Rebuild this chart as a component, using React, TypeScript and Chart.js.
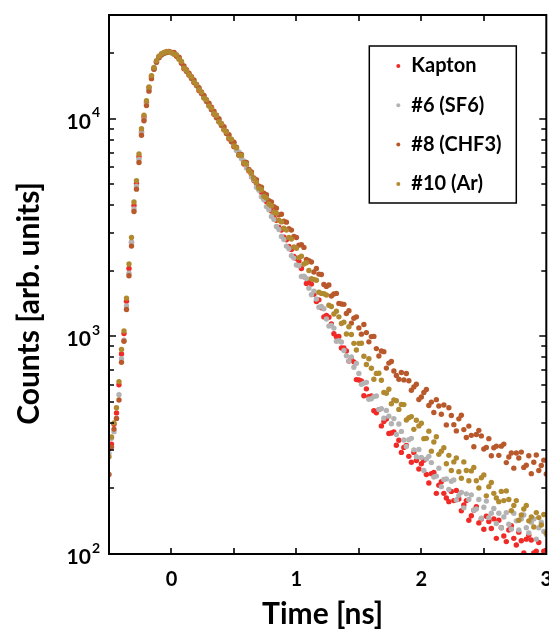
import React, { useEffect, useRef } from "react";
import { Chart, registerables } from "chart.js";

Chart.register(...registerables);

// ---- data (time in ns, counts) ----
const TIME_NS = [
  -0.5, -0.48, -0.46, -0.44, -0.42, -0.4, -0.38, -0.36, -0.34, -0.32,
  -0.3, -0.28, -0.26, -0.24, -0.22, -0.2, -0.18, -0.16, -0.14, -0.12,
  -0.1, -0.08, -0.06, -0.04, -0.02, 0,
  0.02, 0.04, 0.06, 0.08, 0.1, 0.12, 0.14, 0.16, 0.18, 0.2,
  0.22, 0.24, 0.26, 0.28, 0.3, 0.32, 0.34, 0.36, 0.38, 0.4,
  0.42, 0.44, 0.46, 0.48, 0.5, 0.52, 0.54, 0.56, 0.58, 0.6,
  0.62, 0.64, 0.66, 0.68, 0.7, 0.72, 0.74, 0.76, 0.78, 0.8,
  0.82, 0.84, 0.86, 0.88, 0.9, 0.92, 0.94, 0.96, 0.98, 1,
  1.02, 1.04, 1.06, 1.08, 1.1, 1.12, 1.14, 1.16, 1.18, 1.2,
  1.22, 1.24, 1.26, 1.28, 1.3, 1.32, 1.34, 1.36, 1.38, 1.4,
  1.42, 1.44, 1.46, 1.48, 1.5, 1.52, 1.54, 1.56, 1.58, 1.6,
  1.62, 1.64, 1.66, 1.68, 1.7, 1.72, 1.74, 1.76, 1.78, 1.8,
  1.82, 1.84, 1.86, 1.88, 1.9, 1.92, 1.94, 1.96, 1.98, 2,
  2.02, 2.04, 2.06, 2.08, 2.1, 2.12, 2.14, 2.16, 2.18, 2.2,
  2.22, 2.24, 2.26, 2.28, 2.3, 2.32, 2.34, 2.36, 2.38, 2.4,
  2.42, 2.44, 2.46, 2.48, 2.5, 2.52, 2.54, 2.56, 2.58, 2.6,
  2.62, 2.64, 2.66, 2.68, 2.7, 2.72, 2.74, 2.76, 2.78, 2.8,
  2.82, 2.84, 2.86, 2.88, 2.9, 2.92, 2.94, 2.96, 2.98, 3,
];

const KAPTON = [
  305, 320, 395, 445, 600, 830, 1030, 1450, 2050, 2700,
  4000, 5050, 6700, 8700, 10200, 11900, 13900, 15700, 17100, 18400,
  19300, 19800, 20100, 20300, 20400, 20200,
  20100, 19400, 19200, 18100, 17000, 16800, 15900, 15600, 14700, 14400,
  13500, 13300, 12500, 12200, 11500, 11300, 10500, 10400, 9700, 9500,
  8900, 8750, 8100, 8000, 7450, 7350, 6800, 6700, 6200, 6150,
  5750, 5560, 5200, 5060, 4760, 4600, 4300, 4170, 3900, 3770,
  3530, 3420, 3170, 3080, 2860, 2780, 2590, 2510, 2330, 2280,
  2222, 2050, 1880, 1750, 1775, 1739, 1561, 1448, 1472, 1353,
  1229, 1249, 1224, 1142, 1028, 997, 1000, 885, 884, 857,
  770, 789, 764, 633, 630, 624, 534, 574, 529, 532,
  455, 446, 461, 388, 406, 417, 358, 360, 364, 316,
  333, 293, 309, 315, 281, 264, 293, 269, 246, 260,
  270, 232, 212, 234, 237, 190, 207, 215, 190, 181,
  174, 194, 176, 196, 179, 158, 168, 176, 143, 150,
  159, 165, 139, 145, 130, 149, 141, 131, 145, 118,
  143, 132, 121, 114, 129, 135, 118, 110, 126, 115,
  101, 117, 122, 116, 101, 103, 113, 94, 103, 104,
];

const SF6 = [
  290, 340, 365, 420, 540, 790, 960, 1380, 1950, 2700,
  3850, 4900, 6500, 8600, 9900, 11600, 13600, 15400, 16900, 18200,
  19100, 19600, 19900, 20100, 20200, 20100,
  19900, 19700, 18900, 18300, 17200, 16500, 16100, 15300, 14950, 14200,
  13800, 13050, 12700, 12000, 11700, 11000, 10750, 10100, 9900, 9300,
  9100, 8550, 8350, 7850, 7700, 7150, 7050, 6550, 6400, 5950,
  5800, 5400, 5250, 4850, 4700, 4380, 4250, 3950, 3820, 3560,
  3450, 3200, 3100, 2880, 2790, 2600, 2530, 2350, 2290, 2130,
  2111, 1886, 1889, 1847, 1666, 1555, 1615, 1485, 1363, 1374,
  1339, 1203, 1115, 1122, 1092, 950, 955, 942, 862, 814,
  770, 805, 722, 752, 676, 602, 610, 615, 514, 517,
  529, 532, 461, 465, 421, 457, 430, 397, 419, 354,
  396, 366, 334, 312, 335, 340, 301, 280, 302, 278,
  242, 273, 281, 263, 226, 228, 248, 204, 220, 221,
  198, 216, 219, 177, 186, 192, 163, 189, 178, 187,
  159, 161, 178, 146, 164, 175, 147, 154, 162, 138,
  154, 132, 148, 155, 137, 130, 154, 142, 129, 145,
  151, 132, 125, 140, 145, 117, 132, 140, 127, 123,
];

const CHF3 = [
  232, 310, 375, 420, 510, 760, 950, 1330, 1900, 2600,
  3750, 4750, 6300, 8400, 9800, 11500, 13400, 15300, 16900, 18200,
  19100, 19700, 20000, 20200, 20300, 20200,
  20200, 19500, 19100, 18000, 17500, 16550, 16200, 15350, 15100, 14250,
  13900, 13100, 12800, 12050, 11800, 11050, 10850, 10150, 10000, 9350,
  9200, 8550, 8450, 7850, 7800, 7400, 6850, 6850, 6280, 6300,
  5850, 5700, 5350, 5250, 4900, 4850, 4550, 4480, 4200, 4150,
  3950, 3880, 3620, 3640, 3380, 3350, 3130, 3080, 2880, 2850,
  2626, 2642, 2565, 2256, 2228, 2196, 1977, 2051, 1934, 1924,
  1732, 1698, 1722, 1534, 1566, 1576, 1418, 1408, 1404, 1274,
  1311, 1151, 1212, 1230, 1094, 1024, 1135, 1041, 944, 998,
  1000, 879, 813, 857, 851, 715, 754, 767, 694, 662,
  635, 683, 631, 675, 625, 566, 586, 603, 513, 527,
  553, 570, 481, 499, 447, 512, 479, 439, 484, 392,
  470, 433, 393, 368, 418, 434, 373, 343, 387, 351,
  311, 354, 370, 349, 304, 309, 339, 283, 308, 313,
  284, 313, 320, 263, 279, 291, 248, 291, 276, 294,
  250, 256, 283, 234, 264, 285, 242, 255, 270, 233,
];

const AR = [
  280, 345, 400, 470, 620, 870, 1060, 1500, 2150, 2850,
  4150, 5200, 6900, 9000, 10400, 12100, 14000, 15800, 17200, 18500,
  19400, 19900, 20200, 20400, 20300, 20100,
  19800, 19650, 18800, 18350, 17100, 16700, 15950, 15550, 14750, 14400,
  13600, 13250, 12450, 12250, 11450, 11200, 10550, 10350, 9700, 9500,
  8900, 8700, 8150, 8050, 7500, 7350, 6800, 6780, 6250, 6200,
  5780, 5600, 5300, 5100, 4800, 4720, 4400, 4330, 4060, 3990,
  3720, 3680, 3420, 3360, 3140, 3080, 2850, 2800, 2580, 2540,
  2302, 2334, 2152, 2179, 2010, 1840, 1827, 1812, 1595, 1576,
  1571, 1549, 1390, 1372, 1267, 1306, 1230, 1147, 1163, 1026,
  1108, 1020, 929, 866, 929, 930, 810, 743, 789, 714,
  635, 676, 677, 629, 552, 548, 572, 490, 511, 506,
  462, 487, 486, 413, 423, 428, 374, 412, 388, 399,
  339, 340, 367, 297, 327, 346, 287, 297, 308, 260,
  284, 242, 265, 276, 239, 223, 265, 242, 217, 241,
  250, 217, 201, 224, 231, 185, 204, 213, 190, 181,
  174, 194, 176, 195, 178, 158, 167, 176, 143, 151,
  161, 167, 142, 148, 133, 155, 147, 136, 152, 125,
];

const SERIES_LABELS = ["Kapton", "#6 (SF6)", "#8 (CHF3)", "#10 (Ar)"];
const SERIES_VALUES = [KAPTON, SF6, CHF3, AR];
const SERIES_COLORS = ["#f02a26", "#b3b3b3", "#b9592b", "#b1892f"];
const DRAW_ORDER = [3, 2, 1, 0];

const X_MIN = -0.5;
const X_MAX = 3;
const Y_MIN = 100;
const Y_MAX = 30000;
const X_TICK_LABELS = [0, 1, 2, 3];
const X_TICKS = [0, 0.5, 1, 1.5, 2, 2.5];
const Y_DECADES = [2, 3, 4];
const Y_TICKS = [
  200, 300, 400, 500, 600, 700, 800, 900, 1000,
  2000, 3000, 4000, 5000, 6000, 7000, 8000, 9000, 10000, 20000,
];
const X_TITLE = "Time [ns]";
const Y_TITLE = "Counts [arb. units]";

const FONT = "Lato, 'Open Sans', 'DejaVu Sans', sans-serif";

const decorPlugin = {
  id: "decor",
  afterDraw(chart: any) {
    const { ctx, chartArea: a, scales } = chart;
    const xs = scales.x;
    const ys = scales.y;
    ctx.save();
    // frame
    ctx.strokeStyle = "#000";
    ctx.lineWidth = 2;
    ctx.strokeRect(a.left, a.top, a.right - a.left, a.bottom - a.top);
    // inward ticks
    ctx.lineWidth = 1.6;
    ctx.beginPath();
    X_TICKS.forEach((v) => {
      const px = Math.round(xs.getPixelForValue(v));
      ctx.moveTo(px, a.bottom);
      ctx.lineTo(px, a.bottom - 6);
      ctx.moveTo(px, a.top);
      ctx.lineTo(px, a.top + 6);
    });
    Y_TICKS.forEach((v) => {
      const py = Math.round(ys.getPixelForValue(v));
      const major = Math.abs(Math.log10(v) - Math.round(Math.log10(v))) < 1e-9;
      const len = major ? 7 : 5;
      ctx.moveTo(a.left, py);
      ctx.lineTo(a.left + len, py);
      ctx.moveTo(a.right, py);
      ctx.lineTo(a.right - len, py);
    });
    ctx.stroke();

    ctx.fillStyle = "#000";
    // x tick labels
    ctx.font = `bold 20px ${FONT}`;
    ctx.textAlign = "center";
    ctx.textBaseline = "middle";
    X_TICK_LABELS.forEach((v) => {
      ctx.fillText(String(v), xs.getPixelForValue(v), a.bottom + 26);
    });
    // y tick labels 10^n
    Y_DECADES.forEach((e) => {
      const py = ys.getPixelForValue(Math.pow(10, e)) + 3;
      const right = a.left - 9;
      ctx.font = `bold 14px ${FONT}`;
      const ew = ctx.measureText(String(e)).width;
      ctx.textAlign = "right";
      ctx.textBaseline = "middle";
      ctx.fillText(String(e), right, py - 9);
      ctx.font = `bold 21px ${FONT}`;
      ctx.fillText("10", right - ew - 1, py);
    });
    // axis titles
    ctx.font = `bold 30px ${FONT}`;
    ctx.textAlign = "center";
    ctx.textBaseline = "middle";
    ctx.fillText(X_TITLE, (a.left + a.right) / 2 - 5, a.bottom + 60);
    ctx.save();
    ctx.translate(29, (a.top + a.bottom) / 2 + 19);
    ctx.rotate(-Math.PI / 2);
    ctx.fillText(Y_TITLE, 0, 0);
    ctx.restore();

    // legend box
    const bx = a.right - 177;
    const by = a.top + 31;
    const bw = 147;
    const bh = 157;
    ctx.fillStyle = "#fff";
    ctx.fillRect(bx, by, bw, bh);
    ctx.strokeStyle = "#000";
    ctx.lineWidth = 1.5;
    ctx.strokeRect(bx, by, bw, bh);
    ctx.font = `bold 20px ${FONT}`;
    ctx.textAlign = "left";
    ctx.textBaseline = "middle";
    chart.data.datasets.forEach((ds: any, i: number) => {
      const ry = by + 20 + i * 39.3;
      ctx.fillStyle = ds.backgroundColor;
      ctx.beginPath();
      ctx.arc(bx + 29, ry, 2, 0, Math.PI * 2);
      ctx.fill();
      ctx.fillStyle = "#000";
      ctx.fillText(ds.label, bx + 42, ry);
    });
    ctx.restore();
  },
};

export default function App() {
  const ref = useRef<HTMLCanvasElement>(null);
  useEffect(() => {
    const canvas = ref.current;
    if (!canvas) return;
    const chart = new Chart(canvas, {
      type: "scatter",
      data: {
        datasets: SERIES_VALUES.map((vals, i) => ({
          label: SERIES_LABELS[i],
          data: TIME_NS.map((t, j) => ({ x: t, y: vals[j] })),
          backgroundColor: SERIES_COLORS[i],
          borderWidth: 0,
          pointRadius: 2.7,
          pointHoverRadius: 2.7,
          order: DRAW_ORDER[i],
        })),
      },
      options: {
        responsive: false,
        animation: false,
        events: [],
        devicePixelRatio: 1,
        layout: { padding: { left: 0, top: 15, right: 2, bottom: 0 } },
        plugins: {
          legend: { display: false },
          tooltip: { enabled: false },
        },
        scales: {
          x: {
            type: "linear",
            min: X_MIN,
            max: X_MAX,
            grid: { display: false },
            border: { display: false },
            ticks: { display: false },
            afterFit: (s: any) => {
              s.height = 75;
            },
          },
          y: {
            type: "logarithmic",
            min: Y_MIN,
            max: Y_MAX,
            grid: { display: false },
            border: { display: false },
            ticks: { display: false },
            afterFit: (s: any) => {
              s.width = 109;
            },
          },
        },
      },
      plugins: [decorPlugin],
    } as any);
    return () => chart.destroy();
  }, []);
  return (
    <div
      style={{
        position: "fixed",
        left: 0,
        top: 0,
        width: 549,
        height: 629,
        background: "#fff",
        overflow: "hidden",
      }}
    >
      <canvas ref={ref} width={549} height={629} style={{ display: "block" }} />
    </div>
  );
}
